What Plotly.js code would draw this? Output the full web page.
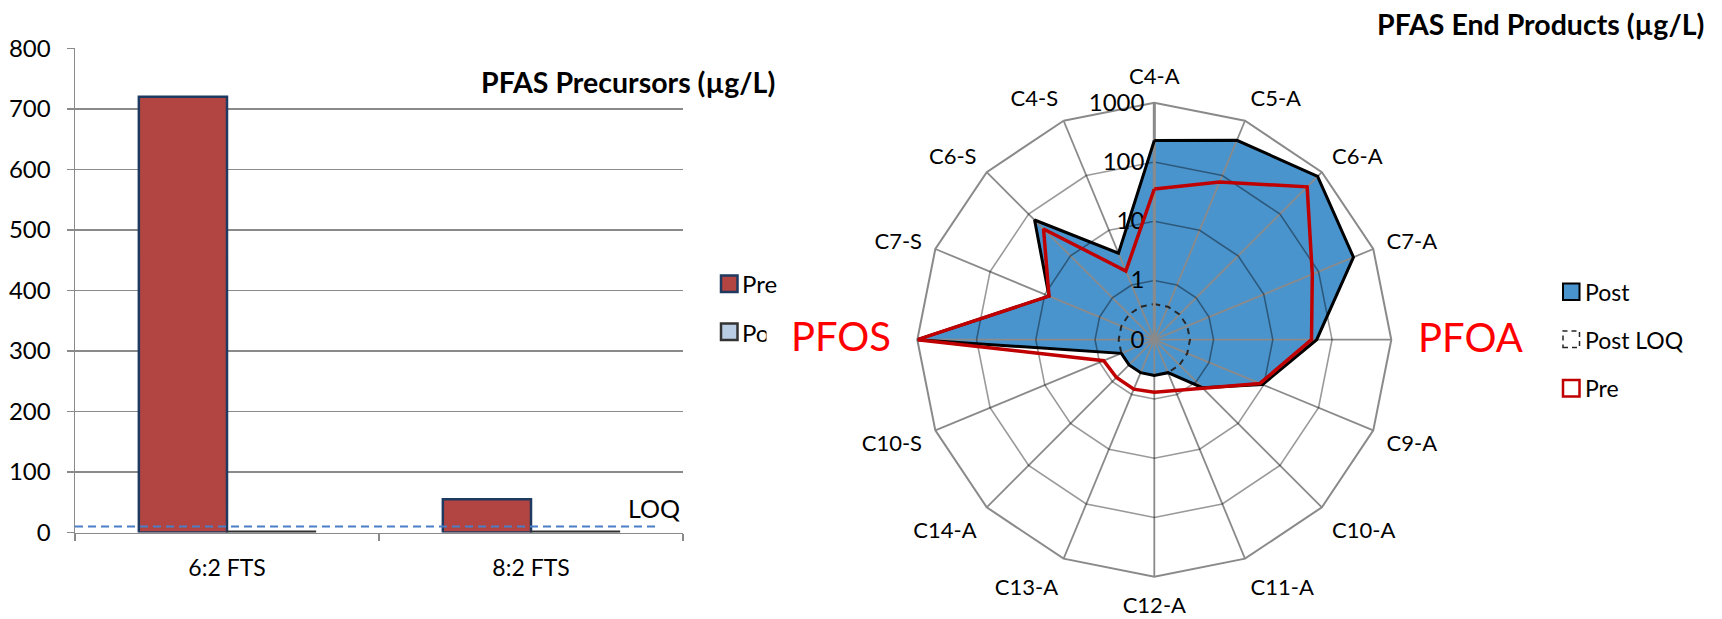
<!DOCTYPE html>
<html>
<head>
<meta charset="utf-8">
<script src="https://cdn.plot.ly/plotly-3.0.1.min.js"></script>
<style>
  html, body { margin: 0; padding: 0; background: #fff; }
  #chart { width: 1722px; height: 619px; }
</style>
</head>
<body>
<div id="chart"></div>
<script>
// PFAS precursors, concentration in µg/L
const precursorNames = ['6:2 FTS', '8:2 FTS'];
const precursorPre = [720, 55];
const precursorPost = [1.5, 1.5];
const precursorLOQ = 10;

// PFAS end products, clockwise from the top spoke, µg/L (log scale)
const endProducts = ['C4-A', 'C5-A', 'C6-A', 'C7-A', 'PFOA', 'C9-A', 'C10-A', 'C11-A',
                     'C12-A', 'C13-A', 'C14-A', 'C10-S', 'PFOS', 'C7-S', 'C6-S', 'C4-S'];
const endPost = [230, 440, 790, 435, 55, 9.5, 1.4, 0.4, 0.4, 0.4, 0.4, 0.4, 1000, 8.4, 72, 3.8];
const endPre  = [35, 76, 445, 77, 45, 8.5, 1.45, 0.85, 0.77, 0.8, 0.8, 0.84, 1000, 8.4, 44, 1.8];
const endLOQ = 0.4;
const radialTicks = [0.1, 1, 10, 100, 1000];
const radialTickText = ['0', '1', '10', '100', '1000'];
const highlighted = ['PFOA', 'PFOS'];

// page geometry helpers (pixels -> paper fractions)
const W = 1722, H = 619;
const X = p => p / W;
const Y = p => 1 - p / H;

const GRID = '#8A8A8A';
const PRE_BAR = '#B24542';
const PRE_EDGE = '#1F3A60';
const POST_BAR = '#B9CDE5';
const POST_FILL = '#4A94CE';
const PRE_LINE = '#C00000';
const FONT = 'Lato, "Open Sans", sans-serif';

const close = a => a.concat([a[0]]);
const loqRing = endProducts.map(() => endLOQ);

// radar placement: centre (1154, 340), outer radius 237 px
const cx = 1154.3, cy = 339.7, R = 237;
const polarDomain = { x: [X(cx - R), X(cx + R)], y: [Y(cy + R), Y(cy - R)] };
const radialBase = { type: 'log', range: [-1, 3] };
const angularBase = { type: 'category', categoryarray: endProducts, rotation: 90, direction: 'clockwise' };

const traces = [
  { type: 'bar', name: 'Pre', x: precursorNames, y: precursorPre,
    marker: { color: PRE_BAR, line: { color: PRE_EDGE, width: 2.5 } }, hoverinfo: 'skip' },
  { type: 'bar', name: 'Post', x: precursorNames, y: precursorPost,
    marker: { color: POST_BAR, line: { color: '#333333', width: 2 } }, hoverinfo: 'skip' },

  // filled Post area (bottom layer)
  { type: 'scatterpolar', subplot: 'polar', name: 'Post', mode: 'lines',
    r: close(endPost), theta: close(endProducts), fill: 'toself', fillcolor: POST_FILL,
    line: { color: 'rgba(0,0,0,0)', width: 0 }, hoverinfo: 'skip' },

  // grid layer with the LOQ ring
  { type: 'scatterpolar', subplot: 'polar2', name: 'Post LOQ', mode: 'lines',
    r: close(loqRing), theta: close(endProducts),
    line: { color: '#262626', width: 2, dash: '6px,5px' }, hoverinfo: 'skip' },

  // outlines on top
  { type: 'scatterpolar', subplot: 'polar3', name: 'Post outline', mode: 'lines',
    r: close(endPost), theta: close(endProducts),
    line: { color: '#000000', width: 3 }, hoverinfo: 'skip' },
  { type: 'scatterpolar', subplot: 'polar3', name: 'Pre', mode: 'lines',
    r: close(endPre), theta: close(endProducts),
    line: { color: PRE_LINE, width: 3.5 }, hoverinfo: 'skip' }
];

const hiddenPolar = (bg) => ({
  domain: polarDomain, gridshape: 'linear', bgcolor: bg,
  radialaxis: Object.assign({}, radialBase, { visible: false }),
  angularaxis: Object.assign({}, angularBase, {
    showgrid: false, showline: false, showticklabels: false, ticks: ''
  })
});

function square(x0, y0, size, fill, lineColor, lineWidth, dash) {
  return { type: 'rect', xref: 'paper', yref: 'paper', layer: 'above',
    x0: X(x0), x1: X(x0 + size), y0: Y(y0 + size), y1: Y(y0),
    fillcolor: fill, line: { color: lineColor, width: lineWidth, dash: dash || 'solid' } };
}

function label(text, px, py, opts) {
  return Object.assign({ text: text, xref: 'paper', yref: 'paper', x: X(px), y: Y(py),
    xanchor: 'left', yanchor: 'middle', showarrow: false,
    font: { family: FONT, size: 23, color: '#000' } }, opts || {});
}

const layout = {
  width: W, height: H,
  margin: { l: 0, r: 0, t: 0, b: 0 },
  paper_bgcolor: '#ffffff', plot_bgcolor: '#ffffff',
  showlegend: false,
  font: { family: FONT, size: 22, color: '#000000' },
  barmode: 'group', bargap: 0.42, bargroupgap: 0,
  xaxis: {
    domain: [X(75), X(683)], type: 'category', fixedrange: true,
    showline: true, linecolor: GRID, linewidth: 1.5, showgrid: false,
    ticks: 'outside', tickson: 'boundaries', ticklen: 7, tickcolor: GRID, tickwidth: 1.5,
    ticklabelstandoff: 14, tickfont: { size: 23 }
  },
  yaxis: {
    domain: [Y(532.5), Y(48.3)], range: [0, 800], dtick: 100, fixedrange: true,
    showgrid: true, gridcolor: GRID, gridwidth: 1.5, zeroline: false,
    showline: true, linecolor: GRID, linewidth: 1.5,
    ticks: 'outside', ticklen: 7, tickcolor: GRID, tickwidth: 1.5,
    ticklabelstandoff: 11, tickfont: { size: 24 }
  },
  polar: hiddenPolar('#ffffff'),
  polar2: {
    domain: polarDomain, gridshape: 'linear', bgcolor: 'rgba(0,0,0,0)',
    radialaxis: Object.assign({}, radialBase, {
      tickmode: 'array', tickvals: radialTicks, ticktext: radialTickText,
      angle: 90, side: 'counterclockwise', tickangle: 90, ticks: '',
      showline: true, linecolor: GRID, linewidth: 3,
      gridcolor: 'rgba(0,0,0,0.4)', gridwidth: 1.6, tickfont: { size: 24 }
    }),
    angularaxis: Object.assign({}, angularBase, {
      tickmode: 'array', tickvals: endProducts,
      ticktext: endProducts.map(c => highlighted.includes(c) ? '' : c),
      showline: true, linecolor: GRID, linewidth: 2,
      gridcolor: GRID, gridwidth: 1.8,
      ticks: 'outside', ticklen: 9, tickcolor: 'rgba(0,0,0,0)', tickfont: { size: 22 }
    })
  },
  polar3: hiddenPolar('rgba(0,0,0,0)'),
  shapes: [
    // limit of quantification on the bar chart
    { type: 'line', xref: 'paper', yref: 'y', x0: X(75), x1: X(659),
      y0: precursorLOQ, y1: precursorLOQ,
      line: { color: '#4A7EC8', width: 2, dash: '8px,5px' } },
    // legend keys, bar chart
    square(721, 275.5, 16.5, PRE_BAR, PRE_EDGE, 2.5),
    square(721, 323.5, 16.5, POST_BAR, '#333333', 2.5),
    // legend keys, radar
    square(1563, 283.5, 16.5, POST_FILL, '#000000', 2),
    square(1563, 331, 16.5, 'rgba(0,0,0,0)', '#262626', 1.5, '5px,4px'),
    square(1563, 380, 16.5, '#ffffff', PRE_LINE, 2.5)
  ],
  annotations: [
    label('<b>PFAS Precursors (µg/L)</b>', 777, 82, { xanchor: 'right', font: { family: FONT, size: 28.5, color: '#000' } }),
    label('LOQ', 682, 508, { xanchor: 'right', font: { family: FONT, size: 25, color: '#000' } }),
    label('Pre', 740, 284, { font: { family: FONT, size: 24, color: '#000' } }),
    label('Post', 740, 332, { font: { family: FONT, size: 24, color: '#000' } }),
    label('PFOS', 766, 336, { width: 124, height: 54, align: 'right', bgcolor: '#ffffff', borderpad: 0,
      font: { family: FONT, size: 40, color: '#FF0000' } }),
    label('PFOA', 1416, 337, { font: { family: FONT, size: 40, color: '#FF0000' } }),
    label('<b>PFAS End Products (µg/L)</b>', 1706, 24, { xanchor: 'right', font: { family: FONT, size: 28.5, color: '#000' } }),
    label('Post', 1583, 292),
    label('Post LOQ', 1583, 340),
    label('Pre', 1583, 388)
  ]
};

Plotly.newPlot('chart', traces, layout, { staticPlot: true, displayModeBar: false });
</script>
</body>
</html>
